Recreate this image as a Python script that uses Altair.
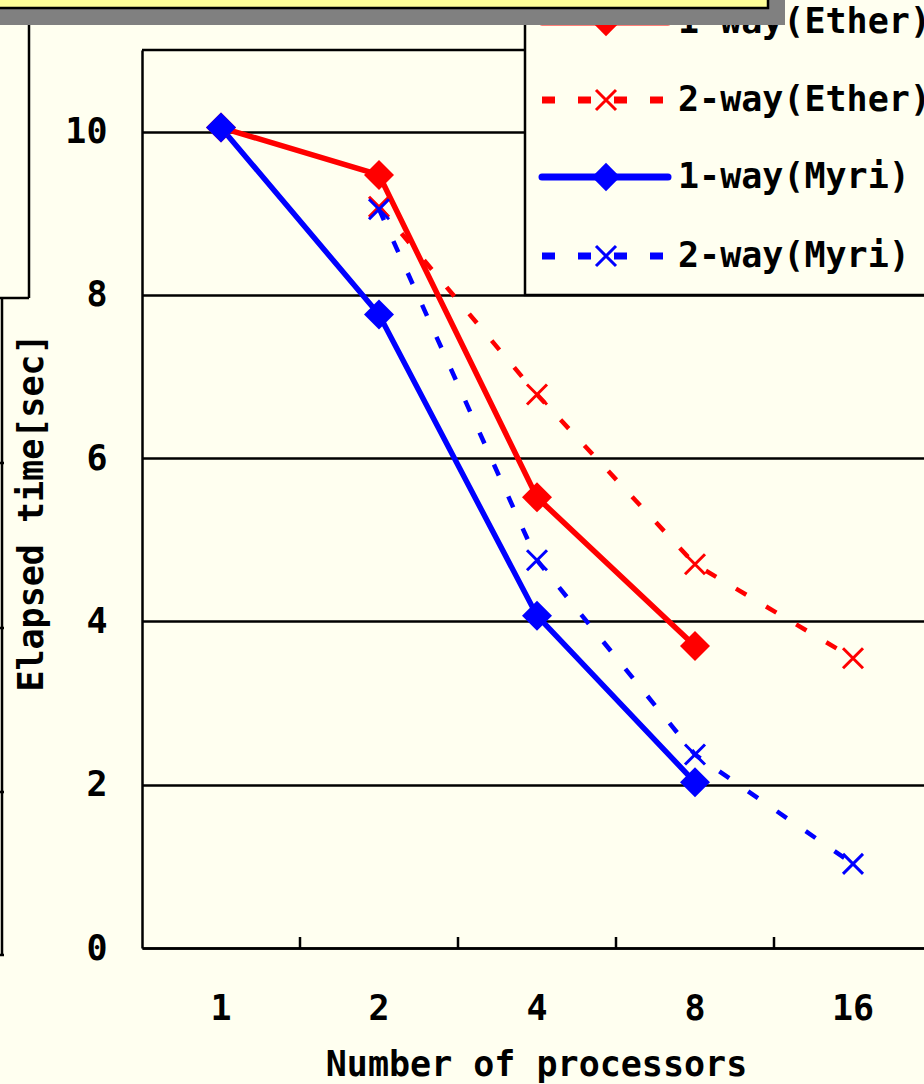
import altair as alt
import pandas as pd

# Number of processors (category axis) and elapsed times in seconds
procs = ["1", "2", "4", "8", "16"]
series_names = ["1-way(Ether)", "2-way(Ether)", "1-way(Myri)", "2-way(Myri)"]
ether_1way = [10.05, 9.47, 5.52, 3.70, None]
ether_2way = [None, 9.08, 6.78, 4.70, 3.55]
myri_1way = [10.05, 7.76, 4.07, 2.03, None]
myri_2way = [None, 9.05, 4.75, 2.37, 1.03]
y_ticks = [0, 2, 4, 6, 8, 10]

values = dict(zip(series_names, [ether_1way, ether_2way, myri_1way, myri_2way]))
rows = []
for name, vals in values.items():
    for p, v in zip(procs, vals):
        if v is not None:
            rows.append({"series": name, "procs": p, "time": v})
df = pd.DataFrame(rows)

RED, BLUE = "#FF0000", "#0000FF"
BG = "#FFFFF0"
FONT = "DejaVu Sans Mono"
FS = 35
XMARK = "M-1,-1L1,1M-1,1L1,-1"
style = {
    "1-way(Ether)": dict(color=RED, dashed=False),
    "2-way(Ether)": dict(color=RED, dashed=True),
    "1-way(Myri)": dict(color=BLUE, dashed=False),
    "2-way(Myri)": dict(color=BLUE, dashed=True),
}

W, H = 782, 898
x_scale = alt.Scale(domain=procs, range=[0, 790], paddingInner=0, paddingOuter=0)
y_scale = alt.Scale(domain=[0, 11], nice=False)
x_axis = alt.Axis(
    labelAngle=0, ticks=False, tickSize=0, grid=False, domainColor="black",
    domainWidth=2.5, labelPadding=43, labelFont=FONT, labelFontSize=FS,
    labelFontWeight="bold", labelColor="black", title="Number of processors",
    titleFont=FONT, titleFontSize=FS, titleFontWeight="bold", titleColor="black",
    titleX=394, titleY=127, titleBaseline="alphabetic", titleAlign="center",
)
y_axis = alt.Axis(
    values=y_ticks, ticks=False, tickSize=0, grid=True, gridColor="black",
    gridWidth=2.5, gridOpacity=1, domainColor="black", domainWidth=2.5,
    labelPadding=35, labelFont=FONT, labelFontSize=FS, labelFontWeight="bold",
    labelColor="black", title="Elapsed time[sec]", titleFont=FONT,
    titleFontSize=FS, titleFontWeight="bold", titleColor="black",
    titleAngle=270, titleX=-100, titleY=462, titleBaseline="alphabetic",
    titleAlign="center",
)
X = alt.X("procs:N", sort=procs, scale=x_scale, axis=x_axis)
Y = alt.Y("time:Q", scale=y_scale, axis=y_axis)

one = pd.DataFrame({"k": [0]})
layers = []


def rule(x, x2, y, y2, color="black", width=2.5, **kw):
    return alt.Chart(one).mark_rule(color=color, strokeWidth=width, **kw).encode(
        x=alt.value(x), x2=alt.value(x2), y=alt.value(y), y2=alt.value(y2)
    )


# frame of the neighbouring panel on the left
layers.append(rule(-113, -113, -25, 248))
layers.append(rule(-142, -113, 248, 248))
layers.append(rule(-140, -140, 248, 905))
for ty in [413, 578, 742, 905]:
    layers.append(rule(-142, -138, ty, ty))

# top border of the plot area
layers.append(
    alt.Chart(pd.DataFrame({"time": [11]})).mark_rule(color="black", strokeWidth=2.5)
    .encode(y=Y, x=alt.value(0), x2=alt.value(W))
)

# inward ticks between categories
layers.append(
    alt.Chart(pd.DataFrame({"procs": procs[1:]})).mark_rule(color="black", strokeWidth=2.5)
    .encode(x=alt.X("procs:N", sort=procs, scale=x_scale, axis=x_axis, bandPosition=0),
            y=alt.value(H - 11), y2=alt.value(H))
)

# series lines
for name in series_names:
    s = style[name]
    kw = dict(strokeDash=[12, 23], strokeWidth=4.5) if s["dashed"] else dict(strokeWidth=5.5)
    layers.append(
        alt.Chart(df[df.series == name]).mark_line(color=s["color"], strokeCap="butt", **kw)
        .encode(x=X, y=Y)
    )

# series markers
for name in series_names:
    s = style[name]
    if s["dashed"]:
        mk = alt.Chart(df[df.series == name]).mark_point(
            shape=XMARK, filled=False, size=400, strokeWidth=3, color=s["color"], opacity=1)
    else:
        mk = alt.Chart(df[df.series == name]).mark_point(
            shape="diamond", filled=True, size=900, color=s["color"], opacity=1)
    layers.append(mk.encode(x=X, y=Y))

# legend box
layers.append(
    alt.Chart(one).mark_rect(fill=BG, stroke="black", strokeWidth=2.5)
    .encode(x=alt.value(383), x2=alt.value(W + 40), y=alt.value(-120), y2=alt.value(245))
)
row_y = [-28, 50, 127, 206]
for name, ry in zip(series_names, row_y):
    s = style[name]
    leg = pd.DataFrame({"series": [name]})
    kw = dict(strokeDash=[13, 23], strokeWidth=7) if s["dashed"] else dict(strokeWidth=7, strokeCap="round")
    layers.append(
        alt.Chart(leg).mark_rule(color=s["color"], **kw)
        .encode(x=alt.value(400), x2=alt.value(526), y=alt.value(ry))
    )
    if s["dashed"]:
        mk = alt.Chart(leg).mark_point(shape=XMARK, filled=False, size=400,
                                       strokeWidth=3, color=s["color"], opacity=1)
    else:
        mk = alt.Chart(leg).mark_point(shape="diamond", filled=True, size=800,
                                       color=s["color"], opacity=1)
    layers.append(mk.encode(x=alt.value(464), y=alt.value(ry)))
    layers.append(
        alt.Chart(leg).mark_text(align="left", baseline="middle", font=FONT, fontSize=FS,
                                 fontWeight="bold", color="black")
        .encode(x=alt.value(536), y=alt.value(ry), text="series:N")
    )

# slide title box with its shadow
layers.append(
    alt.Chart(one).mark_rect(fill="#808080")
    .encode(x=alt.value(-170), x2=alt.value(643), y=alt.value(-120), y2=alt.value(-25))
)
layers.append(
    alt.Chart(one).mark_rect(fill="#FFFF99", stroke="black", strokeWidth=2.5)
    .encode(x=alt.value(-170), x2=alt.value(626), y=alt.value(-120), y2=alt.value(-42))
)

chart = (
    alt.layer(*layers)
    .properties(
        width=W, height=H, background=BG,
        padding={"left": 142, "top": 50, "right": 0, "bottom": 136},
        autosize=alt.AutoSizeParams(type="none"),
    )
    .configure_view(stroke=None)
)

chart.save("out.html", embed_options={"renderer": "svg", "actions": False})
